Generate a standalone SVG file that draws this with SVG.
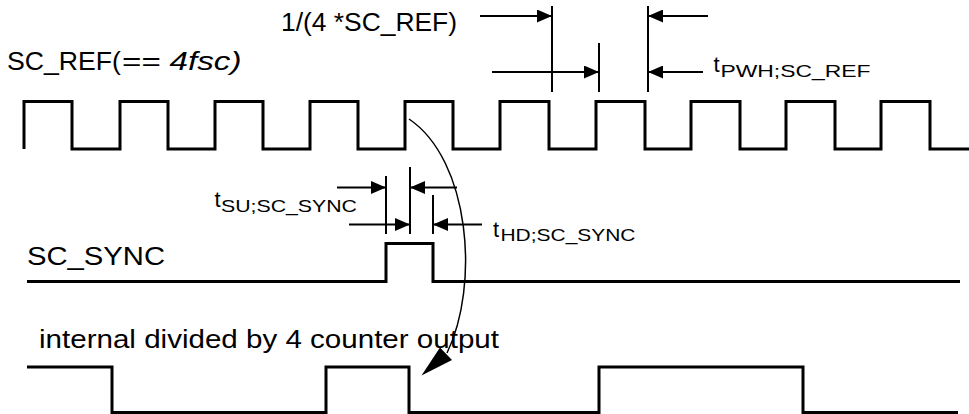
<svg xmlns="http://www.w3.org/2000/svg" width="969" height="414" viewBox="0 0 969 414">
<style>
.wave{fill:none;stroke:#000;stroke-width:3;stroke-linejoin:miter}
.dim{stroke:#000;stroke-width:2;fill:none}
.txt{font-family:"Liberation Sans",Arial,sans-serif;font-size:25px;fill:#000}
.it{font-style:italic}
.tt{font-family:"Liberation Sans",Arial,sans-serif;font-size:22px;fill:#000}
.sub{font-family:"Liberation Sans",Arial,sans-serif;font-size:16.5px;fill:#000}
</style>
<defs>
<marker id="ah" markerWidth="15" markerHeight="13" refX="15" refY="6.5" orient="auto" markerUnits="userSpaceOnUse">
<path d="M0,0 L15,6.5 L0,13 Z" fill="#000"/>
</marker>
</defs>
<rect width="969" height="414" fill="#fff"/>

<g id="sc_ref">
<text class="txt" x="7" y="70" textLength="114" lengthAdjust="spacingAndGlyphs">SC_REF(</text>
<text class="txt it" x="121.5" y="70" textLength="120" lengthAdjust="spacingAndGlyphs">== 4fsc)</text>
<path class="wave" d="M24,149 V101.5 H72 V149 H120 V101.5 H168 V149 H215 V101.5 H263 V149 H310 V101.5 H358 V149 H405 V101.5 H453 V149 H500 V101.5 H549 V149 H596 V101.5 H645 V149 H691 V101.5 H740 V149 H786 V101.5 H835 V149 H881 V101.5 H930 V149 H969"/>
</g>

<g id="sc_sync">
<text class="txt" x="27" y="265" textLength="138" lengthAdjust="spacingAndGlyphs">SC_SYNC</text>
<path class="wave" d="M27,281.5 H386 V243.5 H433 V281.5 H960"/>
</g>

<g id="counter">
<text class="txt" x="39" y="348" textLength="460" lengthAdjust="spacingAndGlyphs">internal divided by 4 counter output</text>
<path class="wave" d="M27,367 H112 V412.5 H326 V367 H409 V412.5 H599 V367 H803 V412.5 H958"/>
</g>

<g id="period_dim">
<text class="txt" x="281" y="31" textLength="176" lengthAdjust="spacingAndGlyphs">1/(4 *SC_REF)</text>
<line class="dim" x1="480" y1="16" x2="552" y2="16" marker-end="url(#ah)"/>
<line class="dim" x1="552" y1="6" x2="552" y2="92"/>
<line class="dim" x1="492" y1="72" x2="599" y2="72" marker-end="url(#ah)"/>
<line class="dim" x1="599" y1="43" x2="599" y2="92"/>
</g>

<g id="pwh_dim">
<line class="dim" x1="648" y1="6" x2="648" y2="92"/>
<line class="dim" x1="708" y1="16" x2="648" y2="16" marker-end="url(#ah)"/>
<line class="dim" x1="703" y1="72" x2="648" y2="72" marker-end="url(#ah)"/>
<text class="tt" x="713.5" y="72">t</text>
<text class="sub" x="720.5" y="76.5" textLength="150" lengthAdjust="spacingAndGlyphs">PWH;SC_REF</text>
</g>

<g id="su_dim">
<line class="dim" x1="386" y1="176" x2="386" y2="234"/>
<line class="dim" x1="410" y1="167" x2="410" y2="234"/>
<line class="dim" x1="337" y1="187.5" x2="386" y2="187.5" marker-end="url(#ah)"/>
<line class="dim" x1="457" y1="187.5" x2="410" y2="187.5" marker-end="url(#ah)"/>
<text class="tt" x="214.5" y="207">t</text>
<text class="sub" x="221" y="212" textLength="136" lengthAdjust="spacingAndGlyphs">SU;SC_SYNC</text>
</g>

<g id="hd_dim">
<line class="dim" x1="433" y1="195" x2="433" y2="234"/>
<line class="dim" x1="349" y1="224.5" x2="410" y2="224.5" marker-end="url(#ah)"/>
<line class="dim" x1="482" y1="224.5" x2="433" y2="224.5" marker-end="url(#ah)"/>
<text class="tt" x="493" y="236.5">t</text>
<text class="sub" x="500.5" y="241" textLength="135" lengthAdjust="spacingAndGlyphs">HD;SC_SYNC</text>
</g>

<g id="connectors">
<path d="M409,119 C470,160 480,285 447,353" fill="none" stroke="#000" stroke-width="1.5"/>
<polygon points="421.5,375.5 440,347.5 452,360" fill="#000"/>
</g>
</svg>
